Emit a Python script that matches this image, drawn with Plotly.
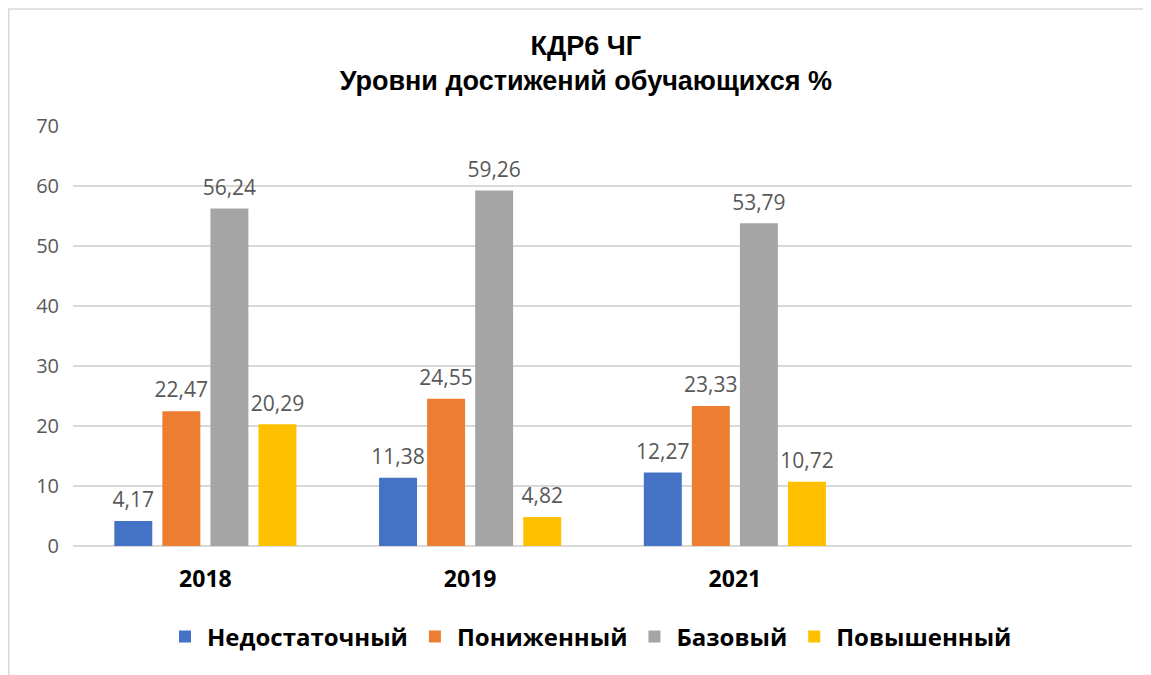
import plotly.graph_objects as go

years = ["2018", "2019", "2021"]
series_names = ["Недостаточный", "Пониженный", "Базовый", "Повышенный"]
nedost = [4.17, 11.38, 12.27]
ponizh = [22.47, 24.55, 23.33]
bazov = [56.24, 59.26, 53.79]
povysh = [20.29, 4.82, 10.72]
colors = ["#4472C4", "#ED7D31", "#A5A5A5", "#FFC000"]
y_ticks = [0, 10, 20, 30, 40, 50, 60, 70]

FONT = "Open Sans, sans-serif"

fig = go.Figure()
all_vals = [nedost, ponizh, bazov, povysh]
for name, vals, col in zip(series_names, all_vals, colors):
    fig.add_trace(go.Bar(
        name=name, x=years, y=vals, marker=dict(color=col, line=dict(width=0)),
        offsetgroup=name,
    ))
# data labels (grouped scatter aligned with the bars)
for name, vals in zip(series_names, all_vals):
    fig.add_trace(go.Scatter(
        x=years, y=vals, mode="markers+text", offsetgroup=name,
        marker=dict(size=12, opacity=0), showlegend=False, hoverinfo="skip",
        text=[f"{v:.2f}".replace(".", ",") for v in vals],
        textposition="top center", cliponaxis=False,
        textfont=dict(family=FONT, size=21, color="#595959"),
    ))

W, H = 1151, 675
ml, mr, mt, mb = 65, 27, 118, 137
pw, ph = W - ml - mr, H - mt - mb

fig.update_layout(
    width=W, height=H,
    margin=dict(l=ml, r=mr, t=mt, b=mb),
    paper_bgcolor="white", plot_bgcolor="white",
    barmode="group", bargap=0.274, bargroupgap=0.21,
    scattermode="group", scattergap=0.274,
    title=dict(
        text="<b>КДР6 ЧГ<br>Уровни достижений обучающихся %</b>",
        x=0.502, xanchor="center", y=1 - 47 / H, yanchor="top",
        font=dict(family="Liberation Sans, Arial, sans-serif", size=27, color="black"),
    ),
    xaxis=dict(
        type="category", categoryorder="array", categoryarray=years,
        range=[-0.5, 3.5], showgrid=False, showline=False, ticks="",
        tickfont=dict(family=FONT, size=23, color="black", weight="bold"),
        ticklabelstandoff=17,
    ),
    yaxis=dict(
        range=[0, 70], tickvals=y_ticks, showgrid=True, gridcolor="#D9D9D9", gridwidth=1.5,
        zeroline=True, zerolinecolor="#D9D9D9", zerolinewidth=1.5, showline=False,
        tickfont=dict(family=FONT, size=20, color="#595959"), ticklabelstandoff=13,
    ),
    legend=dict(
        orientation="h", x=(582 - ml) / pw, xanchor="center",
        y=(H - mb - 629) / ph, yanchor="middle",
        font=dict(family=FONT, size=24, color="black", weight="bold"),
        itemwidth=34, traceorder="normal",
    ),
    showlegend=True,
)

# light-gray container border
fig.add_shape(type="rect", xref="paper", yref="paper",
              x0=(0.75 - ml) / pw, x1=(1170 - ml) / pw,
              y0=(H - mb - 700) / ph, y1=(H - mb - 1) / ph,
              line=dict(color="#D9D9D9", width=1.5), fillcolor="rgba(0,0,0,0)", layer="below")

fig.write_html("out.html")
